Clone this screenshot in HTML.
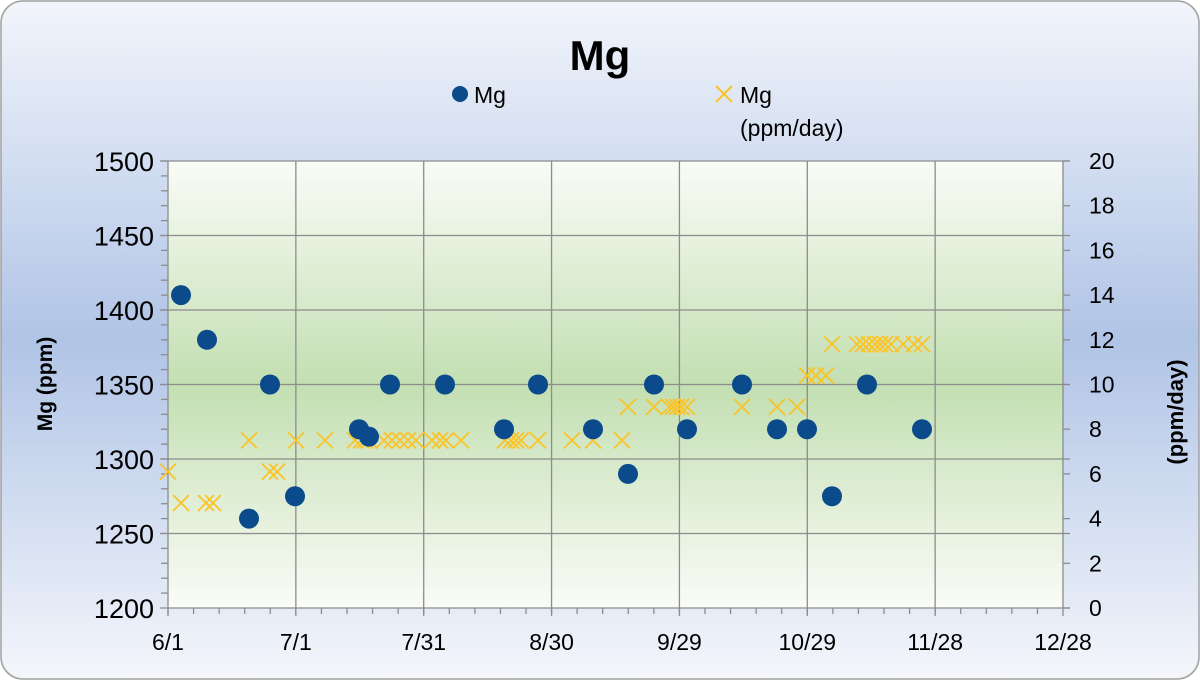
<!DOCTYPE html>
<html><head><meta charset="utf-8"><style>
html,body{margin:0;padding:0;background:#fff}
svg{display:block;font-family:"Liberation Sans","DejaVu Sans",sans-serif}
</style></head><body>
<svg id="s" width="1200" height="680" viewBox="0 0 1200 680" xmlns="http://www.w3.org/2000/svg">
<defs>
<linearGradient id="bg" x1="0" y1="0" x2="0" y2="1">
<stop offset="0" stop-color="#f2f5fb"/>
<stop offset="0.5" stop-color="#b0c4e6"/>
<stop offset="1" stop-color="#f4f6fb"/>
</linearGradient>
<linearGradient id="pa" x1="0" y1="0" x2="0" y2="1">
<stop offset="0" stop-color="#fafcf7"/>
<stop offset="0.5" stop-color="#c3dfb2"/>
<stop offset="1" stop-color="#fafcf7"/>
</linearGradient>
</defs>
<rect x="1" y="1" width="1198" height="678" rx="22" fill="url(#bg)" stroke="#a0a0a0" stroke-width="1.5"/>
<rect x="168" y="161" width="895" height="447" fill="url(#pa)"/>
<g id="grid" stroke="#8c8c8c" stroke-width="1.3" fill="none"></g>
<text x="600" y="70" font-size="42" font-weight="bold" text-anchor="middle" fill="#000">Mg</text>
<circle cx="460" cy="94" r="8" fill="#0b4a8b"/>
<text x="474" y="103" font-size="23" fill="#000">Mg</text>
<g stroke="#fac428" stroke-width="2"><line x1="716" y1="86" x2="732" y2="102"/><line x1="732" y1="86" x2="716" y2="102"/></g>
<text x="740" y="103" font-size="23" fill="#000">Mg</text>
<text x="740" y="136" font-size="23" fill="#000">(ppm/day)</text>
<g id="lab" font-size="27" fill="#000"></g>
<text transform="translate(52,384) rotate(-90)" font-size="21" font-weight="bold" text-anchor="middle">Mg (ppm)</text>
<text transform="translate(1183,412) rotate(-90)" font-size="22" font-weight="bold" text-anchor="middle">(ppm/day)</text>
<g id="pts"></g>
</svg>
<script>
var ns="http://www.w3.org/2000/svg",s=document.getElementById('s');
function el(p,t,a,txt){var e=document.createElementNS(ns,t);for(var k in a)e.setAttribute(k,a[k]);if(txt!==undefined)e.textContent=txt;p.appendChild(e);return e;}
var g=document.getElementById('grid'),lab=document.getElementById('lab'),pts=document.getElementById('pts');
var L=168,R=1063,T=161,B=608,dx=(R-L)/7;
for(var i=0;i<=6;i++){var y=T+i*(B-T)/6;el(g,'line',{x1:L-8,x2:R+7,y1:y,y2:y});
el(lab,'text',{x:L-14,y:y+10,'text-anchor':'end'},String(1500-50*i));}
for(var i=0;i<=10;i++){var y=T+i*(B-T)/10;el(lab,'text',{x:1089,y:y+8,'font-size':'23'},String(20-2*i));el(g,'line',{x1:R,x2:R+7,y1:y,y2:y});}
for(var i=0;i<30;i++){var y=T+i*(B-T)/30;el(g,'line',{x1:L-7,x2:L,y1:y,y2:y});}
var xl=['6/1','7/1','7/31','8/30','9/29','10/29','11/28','12/28'];
for(var i=0;i<=7;i++){var x=L+i*dx;el(g,'line',{x1:x,x2:x,y1:T,y2:B+8});el(lab,'text',{x:x,y:650,'text-anchor':'middle','font-size':'23'},xl[i]);}
for(var i=0;i<35;i++){var x=L+i*dx/5;el(g,'line',{x1:x,x2:x,y1:B,y2:B+6});}
var cr=[[168,6.1],[181,4.7],[206,4.7],[213,4.7],[249,7.5],[270,6.1],[277,6.1],[296,7.5],[325,7.5],[355,7.5],[361,7.5],[365,7.5],[369,7.5],[384,7.5],[392,7.5],[400,7.5],[408,7.5],[416,7.5],[432,7.5],[440,7.5],[446,7.5],[461,7.5],[505,7.5],[511,7.5],[516,7.5],[521,7.5],[538,7.5],[572,7.5],[593,7.5],[622,7.5],[628,9],[654,9],[669,9],[673,9],[677,9],[681,9],[687,9],[742,9],[777,9],[797,9],[807,10.4],[816,10.4],[826,10.4],[832,11.8],[857,11.8],[863,11.8],[869,11.8],[875,11.8],[880,11.8],[885,11.8],[891,11.8],[903,11.8],[914,11.8],[922,11.8]];
var cg=el(pts,'g',{stroke:'#fac428','stroke-width':'1.8'});
cr.forEach(function(c){var x=c[0],y=B-c[1]*(B-T)/20,h=8;el(cg,'line',{x1:x-h,y1:y-h,x2:x+h,y2:y+h});el(cg,'line',{x1:x+h,y1:y-h,x2:x-h,y2:y+h});});
var d=[[181,1410],[207,1380],[249,1260],[270,1350],[295,1275],[359,1320],[369,1315],[390,1350],[445,1350],[504,1320],[538,1350],[593,1320],[628,1290],[654,1350],[687,1320],[742,1350],[777,1320],[807,1320],[832,1275],[867,1350],[922,1320]];
d.forEach(function(p){el(pts,'circle',{cx:p[0],cy:B-(p[1]-1200)*(B-T)/300,r:10,fill:'#0b4a8b'});});
</script>
</body></html>
